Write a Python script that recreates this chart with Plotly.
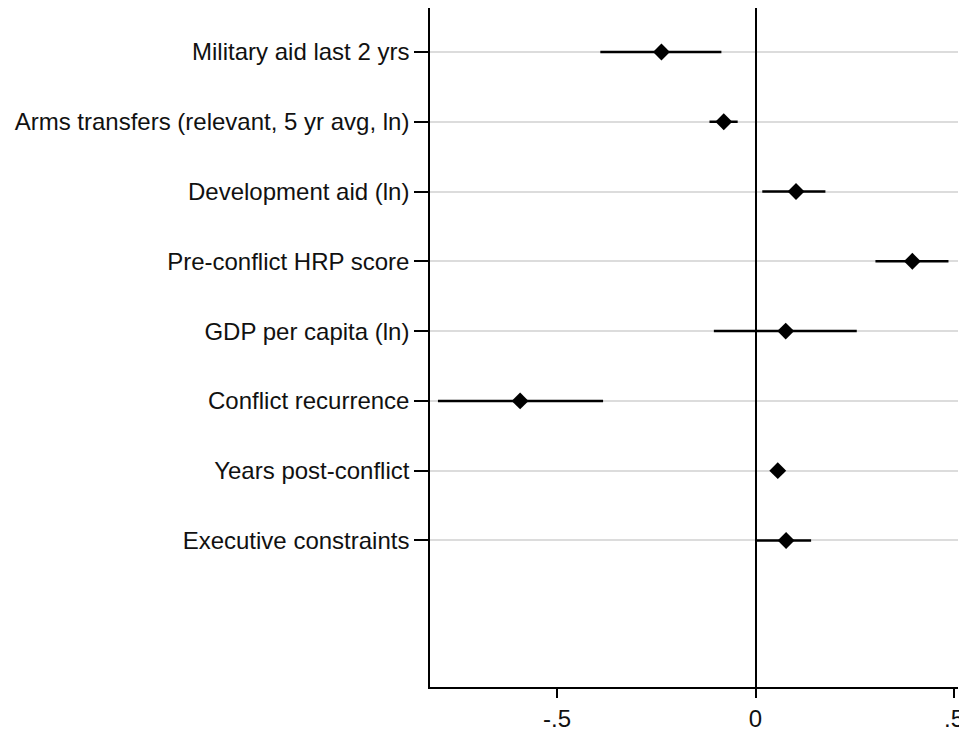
import plotly.graph_objects as go

variables = [
    "Military aid last 2 yrs",
    "Arms transfers (relevant, 5 yr avg, ln)",
    "Development aid (ln)",
    "Pre-conflict HRP score",
    "GDP per capita (ln)",
    "Conflict recurrence",
    "Years post-conflict",
    "Executive constraints",
]
estimates = [-0.237, -0.080, 0.102, 0.395, 0.076, -0.593, 0.056, 0.077]
ci_low = [-0.391, -0.116, 0.017, 0.302, -0.105, -0.800, 0.045, 0.002]
ci_high = [-0.086, -0.045, 0.176, 0.486, 0.255, -0.384, 0.067, 0.140]

x_tickvals = [-0.5, 0, 0.5]
x_ticktext = ["-.5", "0", ".5"]

err_plus = [h - e for h, e in zip(ci_high, estimates)]
err_minus = [e - l for e, l in zip(estimates, ci_low)]

fig = go.Figure()
fig.add_trace(go.Scatter(
    x=estimates,
    y=variables,
    mode="markers",
    marker=dict(symbol="diamond", size=13, color="black"),
    error_x=dict(type="data", symmetric=False, array=err_plus, arrayminus=err_minus,
                 color="black", thickness=2.5, width=0),
    showlegend=False,
    cliponaxis=False,
))

font = dict(family="Liberation Sans, Arial, sans-serif", size=24, color="#111111")

fig.update_layout(
    width=959, height=724,
    margin=dict(l=422, r=9, t=0, b=43),
    paper_bgcolor="white",
    plot_bgcolor="white",
    font=font,
    xaxis=dict(
        range=[-0.82, 0.51],
        tickvals=x_tickvals, ticktext=x_ticktext,
        showgrid=False,
        zeroline=True, zerolinecolor="black", zerolinewidth=1.5,
        showline=True, linecolor="black", linewidth=1.5,
        ticks="outside", ticklen=9, tickwidth=1.5, tickcolor="black",
        tickfont=font,
        ticklabeloverflow="allow",
    ),
    yaxis=dict(
        type="category",
        categoryorder="array", categoryarray=variables,
        range=[9.10, -0.63],
        showgrid=True, gridcolor="#dcdcdc", gridwidth=1.5,
        zeroline=False,
        showline=True, linecolor="black", linewidth=1.5,
        ticks="outside", ticklen=14, tickwidth=1.5, tickcolor="black",
        tickfont=font,
    ),
)

fig.write_html("out.html", config={"displayModeBar": False})
